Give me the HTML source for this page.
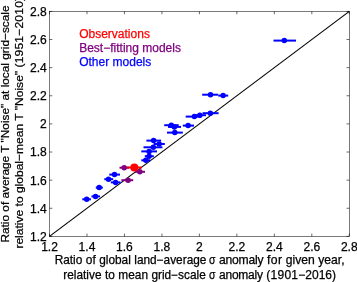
<!DOCTYPE html>
<html><head><meta charset="utf-8"><title>chart</title>
<style>
html,body{margin:0;padding:0;background:#fff;}
body{width:357px;height:282px;position:relative;overflow:hidden;font-family:"Liberation Sans",sans-serif;color:#000;}
.t,.x,.lg{-webkit-text-stroke:0.25px currentColor;}
.t{position:absolute;font-size:12.05px;line-height:14px;white-space:nowrap;}
.xt{width:40px;text-align:center;}
.yt{text-align:right;}
.xl{position:absolute;left:39.7px;width:320px;text-align:center;font-size:12px;line-height:14px;white-space:nowrap;}
.yl{position:absolute;left:15px;top:123.9px;width:0;height:0;}
.yl div{position:absolute;width:300px;left:-150px;top:-15px;text-align:center;font-size:12px;line-height:14.6px;white-space:nowrap;transform:rotate(-90deg);transform-origin:50% 50%;}
.x{position:absolute;font-size:12px;line-height:14px;white-space:nowrap;}
.lg{position:absolute;left:79.2px;font-size:12px;line-height:13px;white-space:nowrap;}
#w{position:absolute;left:0;top:0;width:357px;height:282px;will-change:transform;opacity:0.999}
</style></head><body><div id="w">
<svg width="357" height="282" viewBox="0 0 357 282" style="position:absolute;left:0;top:0"><rect x="49.5" y="11.4" width="299.8" height="225.0" fill="none" stroke="#000" stroke-width="0.52"/><path d="M49.50 236.4V233.6M49.50 11.4V14.2M49.5 236.40H52.3M349.3 236.40H346.5M86.97 236.4V233.6M86.97 11.4V14.2M49.5 208.28H52.3M349.3 208.28H346.5M124.45 236.4V233.6M124.45 11.4V14.2M49.5 180.15H52.3M349.3 180.15H346.5M161.93 236.4V233.6M161.93 11.4V14.2M49.5 152.02H52.3M349.3 152.02H346.5M199.40 236.4V233.6M199.40 11.4V14.2M49.5 123.90H52.3M349.3 123.90H346.5M236.88 236.4V233.6M236.88 11.4V14.2M49.5 95.77H52.3M349.3 95.77H346.5M274.35 236.4V233.6M274.35 11.4V14.2M49.5 67.65H52.3M349.3 67.65H346.5M311.82 236.4V233.6M311.82 11.4V14.2M49.5 39.53H52.3M349.3 39.53H346.5M349.30 236.4V233.6M349.30 11.4V14.2M49.5 11.40H52.3M349.3 11.40H346.5" stroke="#000" stroke-width="0.6" fill="none"/><line x1="49.5" y1="236.4" x2="349.3" y2="11.4" stroke="#000" stroke-width="1.15"/><line x1="119.5" y1="167.70000000000002" x2="129" y2="167.70000000000002" stroke="#800080" stroke-width="2.0"/><circle cx="124.2" cy="167.70000000000002" r="2.75" fill="#800080"/><line x1="121.4" y1="180.20000000000002" x2="133.2" y2="180.20000000000002" stroke="#800080" stroke-width="2.0"/><circle cx="128.1" cy="180.20000000000002" r="2.75" fill="#800080"/><line x1="135" y1="171.8" x2="145" y2="171.8" stroke="#800080" stroke-width="2.0"/><circle cx="139.8" cy="171.8" r="2.75" fill="#800080"/><line x1="82.3" y1="199.3" x2="90.9" y2="199.3" stroke="#0000ff" stroke-width="2.0"/><circle cx="86.7" cy="199.3" r="2.75" fill="#0000ff"/><line x1="91.5" y1="196.4" x2="100" y2="196.4" stroke="#0000ff" stroke-width="2.0"/><circle cx="95.5" cy="196.4" r="2.75" fill="#0000ff"/><line x1="95.8" y1="187.60000000000002" x2="102.8" y2="187.60000000000002" stroke="#0000ff" stroke-width="2.0"/><circle cx="99.2" cy="187.60000000000002" r="2.75" fill="#0000ff"/><line x1="104.3" y1="179.20000000000002" x2="113.2" y2="179.20000000000002" stroke="#0000ff" stroke-width="2.0"/><circle cx="108.5" cy="179.20000000000002" r="2.75" fill="#0000ff"/><line x1="109.3" y1="174.60000000000002" x2="120" y2="174.60000000000002" stroke="#0000ff" stroke-width="2.0"/><circle cx="114.5" cy="174.60000000000002" r="2.75" fill="#0000ff"/><line x1="110.8" y1="182.4" x2="120.5" y2="182.4" stroke="#0000ff" stroke-width="2.0"/><circle cx="115.6" cy="182.4" r="2.75" fill="#0000ff"/><line x1="141.3" y1="160.3" x2="150.3" y2="160.3" stroke="#0000ff" stroke-width="2.0"/><circle cx="145.8" cy="160.3" r="2.75" fill="#0000ff"/><line x1="144.8" y1="156.20000000000002" x2="153.8" y2="156.20000000000002" stroke="#0000ff" stroke-width="2.0"/><circle cx="149.1" cy="156.20000000000002" r="2.75" fill="#0000ff"/><line x1="141.3" y1="151.4" x2="157" y2="151.4" stroke="#0000ff" stroke-width="2.0"/><circle cx="149.1" cy="151.4" r="2.75" fill="#0000ff"/><line x1="143.5" y1="147.3" x2="162.4" y2="147.3" stroke="#0000ff" stroke-width="2.0"/><circle cx="153.3" cy="147.3" r="2.75" fill="#0000ff"/><line x1="153.6" y1="144.0" x2="164.8" y2="144.0" stroke="#0000ff" stroke-width="2.0"/><circle cx="159.2" cy="144.0" r="2.75" fill="#0000ff"/><line x1="146.4" y1="140.60000000000002" x2="161.1" y2="140.60000000000002" stroke="#0000ff" stroke-width="2.0"/><circle cx="153.6" cy="140.60000000000002" r="2.75" fill="#0000ff"/><line x1="164.2" y1="125.2" x2="178.7" y2="125.2" stroke="#0000ff" stroke-width="2.0"/><circle cx="171.3" cy="125.2" r="2.75" fill="#0000ff"/><line x1="168" y1="126.89999999999999" x2="181" y2="126.89999999999999" stroke="#0000ff" stroke-width="2.0"/><circle cx="174.4" cy="126.89999999999999" r="2.75" fill="#0000ff"/><line x1="167" y1="132.60000000000002" x2="182.8" y2="132.60000000000002" stroke="#0000ff" stroke-width="2.0"/><circle cx="174.8" cy="132.60000000000002" r="2.75" fill="#0000ff"/><line x1="182.8" y1="125.6" x2="194" y2="125.6" stroke="#0000ff" stroke-width="2.0"/><circle cx="188.1" cy="125.6" r="2.75" fill="#0000ff"/><line x1="185.7" y1="116.6" x2="201.4" y2="116.6" stroke="#0000ff" stroke-width="2.0"/><circle cx="194.4" cy="116.6" r="2.75" fill="#0000ff"/><line x1="195" y1="115.2" x2="206" y2="115.2" stroke="#0000ff" stroke-width="2.0"/><circle cx="199.8" cy="115.2" r="2.75" fill="#0000ff"/><line x1="202.5" y1="113.2" x2="218.6" y2="113.2" stroke="#0000ff" stroke-width="2.0"/><circle cx="210.3" cy="113.2" r="2.75" fill="#0000ff"/><line x1="202.2" y1="94.7" x2="218.2" y2="94.7" stroke="#0000ff" stroke-width="2.0"/><circle cx="210.5" cy="94.7" r="2.75" fill="#0000ff"/><line x1="218.2" y1="95.6" x2="228.2" y2="95.6" stroke="#0000ff" stroke-width="2.0"/><circle cx="223.1" cy="95.6" r="2.75" fill="#0000ff"/><line x1="273.5" y1="40.599999999999994" x2="296" y2="40.599999999999994" stroke="#0000ff" stroke-width="2.0"/><circle cx="284.3" cy="40.599999999999994" r="2.75" fill="#0000ff"/><line x1="127" y1="167.50000000000003" x2="141.8" y2="167.50000000000003" stroke="#ff0000" stroke-width="2.0"/><circle cx="134.3" cy="167.50000000000003" r="4" fill="#ff0000"/></svg>
<div class="t xt" style="left:29.50px;top:239.9px">1.2</div><div class="t yt" style="left:0px;width:46.8px;top:229.80px">1.2</div><div class="t xt" style="left:66.97px;top:239.9px">1.4</div><div class="t yt" style="left:0px;width:46.8px;top:201.68px">1.4</div><div class="t xt" style="left:104.45px;top:239.9px">1.6</div><div class="t yt" style="left:0px;width:46.8px;top:173.55px">1.6</div><div class="t xt" style="left:141.93px;top:239.9px">1.8</div><div class="t yt" style="left:0px;width:46.8px;top:145.42px">1.8</div><div class="t xt" style="left:179.40px;top:239.9px">2</div><div class="t yt" style="left:0px;width:46.8px;top:117.30px">2</div><div class="t xt" style="left:216.88px;top:239.9px">2.2</div><div class="t yt" style="left:0px;width:46.8px;top:89.17px">2.2</div><div class="t xt" style="left:254.35px;top:239.9px">2.4</div><div class="t yt" style="left:0px;width:46.8px;top:61.05px">2.4</div><div class="t xt" style="left:291.82px;top:239.9px">2.6</div><div class="t yt" style="left:0px;width:46.8px;top:32.93px">2.6</div><div class="t xt" style="left:329.30px;top:239.9px">2.8</div><div class="t yt" style="left:0px;width:46.8px;top:4.80px">2.8</div>
<div class="x" id="a1" style="top:253px;left:54.7px;font-size:11.85px;word-spacing:0.2px">Ratio of global land−average</div>
<div class="x" id="s1" style="top:253px;left:209.3px;font-size:12px;transform:scaleX(0.87);transform-origin:0 0">σ</div>
<div class="x" id="c1" style="top:253px;left:219px;font-size:12.15px"><span style="letter-spacing:-0.23px">anomaly</span><span style="letter-spacing:0.4px"> for</span> given year,</div>
<div class="x" id="a2" style="top:268px;left:63.3px;font-size:11.85px;word-spacing:0.2px">relative to mean grid−scale</div>
<div class="x" id="s2" style="top:268px;left:209.3px;font-size:12px;transform:scaleX(0.87);transform-origin:0 0">σ</div>
<div class="x" id="c2" style="top:268px;left:219px;font-size:12.0px"><span style="letter-spacing:-0.23px">anomaly</span><span style="letter-spacing:0.25px"> (1901</span>−2016)</div>
<svg width="357" height="282" viewBox="0 0 357 282" style="position:absolute;left:0;top:0;overflow:hidden">
<text transform="translate(9.2,242.6) rotate(-90) scale(1,0.96)" font-family="Liberation Sans, sans-serif" font-size="11.84" fill="#000" stroke="#000" stroke-width="0.25">Ratio of average T "Noise" at local grid−scale</text>
<text transform="translate(22.7,248.6) rotate(-90) scale(1,0.96)" font-family="Liberation Sans, sans-serif" font-size="12.05" fill="#000" stroke="#000" stroke-width="0.25">relative to global−mean T "Noise" <tspan style="letter-spacing:0.2px">(1951−2010)</tspan></text>
</svg>
<div class="lg" style="top:28px;color:#ff0000">Observations</div>
<div class="lg" style="top:42px;color:#800080">Best−fitting models</div>
<div class="lg" style="top:56px;color:#0000ff">Other models</div>
</div></body></html>
